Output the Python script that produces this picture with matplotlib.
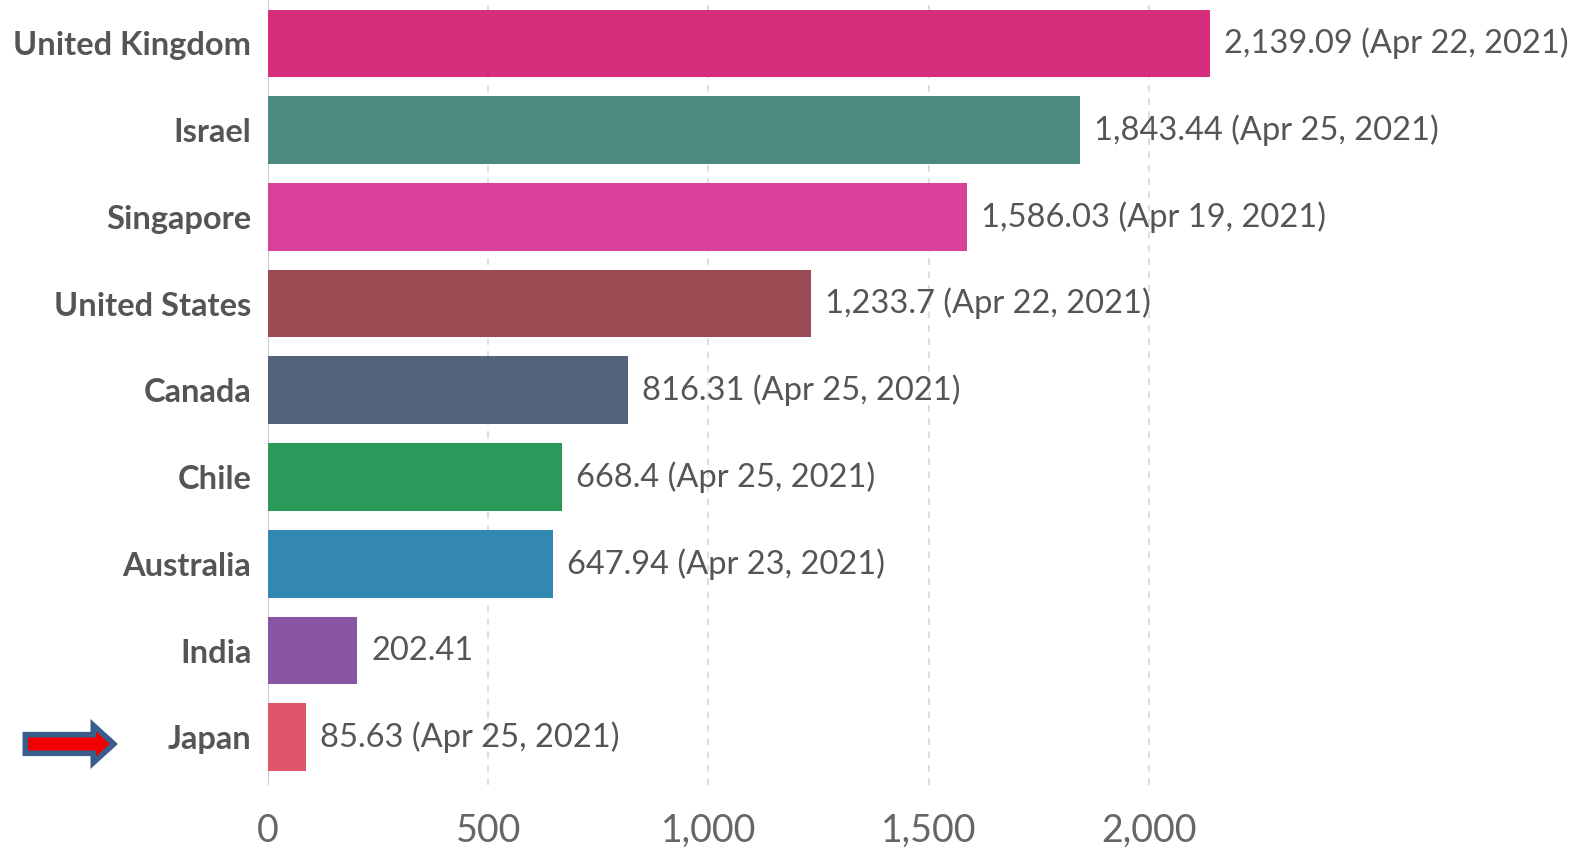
import matplotlib
matplotlib.use("Agg")
import matplotlib.pyplot as plt
from matplotlib.patches import FancyArrow

countries = ["United Kingdom", "Israel", "Singapore", "United States", "Canada",
             "Chile", "Australia", "India", "Japan"]
values = [2139.09, 1843.44, 1586.03, 1233.7, 816.31, 668.4, 647.94, 202.41, 85.63]
dates = ["Apr 22, 2021", "Apr 25, 2021", "Apr 19, 2021", "Apr 22, 2021", "Apr 25, 2021",
         "Apr 25, 2021", "Apr 23, 2021", "", "Apr 25, 2021"]
colors = ["#D62E7A", "#4B8A7F", "#D8409A", "#9A4A52", "#55647B",
          "#2A9A5B", "#3388B1", "#8956A6", "#E05569"]
xticks = [0, 500, 1000, 1500, 2000]

plt.rcParams["font.family"] = ["Lato", "DejaVu Sans"]

fig = plt.figure(figsize=(15.81, 8.49), dpi=100)
ax = fig.add_axes([0.1695, 0.0754, 0.8305, 0.9246])

ypos = list(range(len(countries)))
ax.barh(ypos, values, height=0.78, color=colors, zorder=2)

for y, v, d in zip(ypos, values, dates):
    label = f"{v:,} ({d})" if d else f"{v:,}"
    ax.text(v + 32, y, label, va="center", ha="left", fontsize=23.5, color="#555555")

ax.set_xlim(0, 2981)
ax.set_ylim(8.55, -0.5)
ax.set_yticks(ypos)
ax.set_yticklabels(countries, fontsize=23.5, fontweight="bold", color="#555555")
ax.set_xticks(xticks)
ax.set_xticklabels([f"{t:,}" for t in xticks], fontsize=27, color="#666666")
ax.tick_params(axis="both", length=0)
ax.tick_params(axis="x", pad=20)
ax.tick_params(axis="y", pad=12)

for s in ax.spines.values():
    s.set_visible(False)
for t in xticks[1:]:
    ax.axvline(t, color="#d8d8d8", linestyle=(0, (4, 4)), linewidth=1.2, zorder=1)
ax.axvline(0, color="#cccccc", linewidth=1.5, zorder=1)

# pointer next to Japan
arrow = FancyArrow(0.016, 0.1237, 0.056, 0, width=0.022, head_width=0.044,
                   head_length=0.013, length_includes_head=True,
                   transform=fig.transFigure, facecolor="#F20000",
                   edgecolor="#3A5E8C", linewidth=4, joinstyle="miter")
fig.patches.append(arrow)

fig.savefig("out.png", dpi=100)
